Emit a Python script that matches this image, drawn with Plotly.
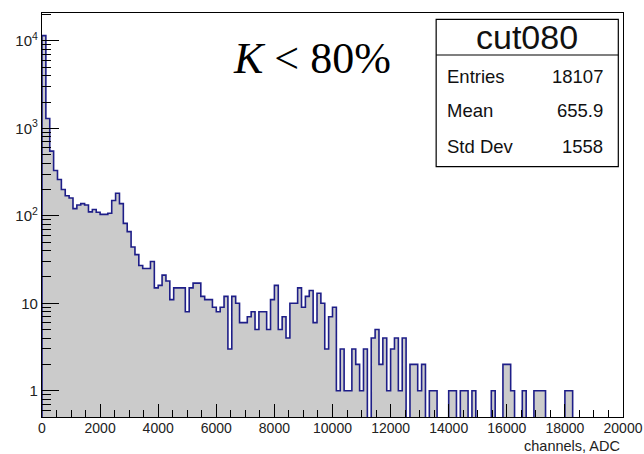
import numpy as np
import plotly.graph_objects as go

# ---------------- data ----------------
bin_low = 0.0
bin_width = 20000.0 / 150
counts = [
    11500, 1300, 550, 330, 260, 200, 170, 160, 121, 133,
    138, 133, 111, 118, 110, 104, 104, 107, 150, 181,
    138, 82, 66, 44, 36, 27, 25, 25, 30, 15,
    16, 21, 18, 11, 15, 15, 15, 8, 15, 17,
    17, 12, 11, 11, 9, 8, 9, 12, 3, 12,
    10, 6, 6, 7, 8, 5, 8, 8, 5, 11,
    16, 5, 7, 4, 10, 10, 15, 9, 12, 14,
    6, 13, 10, 3, 7, 9, 1, 3, 1, 1,
    3, 2, 1, 3, 0, 4, 5, 2, 4, 1,
    3, 4, 1, 4, 0, 2, 2, 1, 2, 0,
    1, 1, 0, 0, 0, 1, 1, 0, 1, 1,
    0, 1, 0, 0, 0, 0, 1, 0, 0, 2,
    2, 1, 0, 0, 1, 0, 0, 1, 1, 1,
    0, 0, 0, 0, 0, 1, 1, 0, 0, 0,
    0, 0, 0, 0, 0, 0, 0, 0, 0, 0,
]
hist_name = "cut080"
stat_labels = ["Entries", "Mean", "Std Dev"]
stat_values = ["18107", "655.9", "1558"]
x_tick_vals = [0, 2000, 4000, 6000, 8000, 10000, 12000, 14000, 16000, 18000, 20000]
x_tick_text = ["0", "2000", "4000", "6000", "8000", "10000", "12000", "14000",
               "16000", "18000", "20000"]
y_tick_vals = [1, 10, 100, 1000, 10000]
y_tick_text = ["1", "10", "10<sup>2</sup>", "10<sup>3</sup>", "10<sup>4</sup>"]
x_title = "channels, ADC"
cut_label = "<i>K</i> < 80%"

# ---------------- geometry ----------------
W, H = 644, 454
L, R, T, B = 41.5, 623.0, 13.0, 417.0

def px(x):
    return (x - L) / (R - L)

def py(y):
    return (B - y) / (B - T)

counts = np.array(counts, dtype=float)
n = len(counts)
edges = bin_low + bin_width * np.arange(n + 1)
centers = edges[:-1] + bin_width / 2

floor = 0.05
bar_y = [c if c > 0 else None for c in counts]
line_x = [edges[0]] + list(edges[:-1]) + [edges[-1]]
line_y = [floor] + [c if c > 0 else floor for c in counts] + [floor]

fig = go.Figure()
fig.add_trace(go.Bar(x=centers, y=bar_y, width=bin_width,
                     marker=dict(color="#cbcbcb", line=dict(width=0)),
                     hoverinfo="skip"))
fig.add_trace(go.Scatter(x=line_x, y=line_y, mode="lines",
                         line=dict(color="#1e1e88", width=1.6, shape="hv"),
                         hoverinfo="skip"))

minor_y = []
for d in [0.1, 1, 10, 100, 1000, 10000]:
    for k in range(2, 10):
        minor_y.append(k * d)

fig.update_layout(
    width=W, height=H,
    margin=dict(l=L, r=W - R, t=T, b=H - B, pad=0, autoexpand=False),
    paper_bgcolor="white", plot_bgcolor="white",
    showlegend=False, bargap=0,
    font=dict(family="Liberation Sans, Arial, sans-serif", color="#222222"),
    xaxis=dict(range=[0, 20000], tickvals=x_tick_vals, ticktext=x_tick_text,
               ticks="inside", ticklen=13, automargin=False,
               tickcolor="black", tickwidth=1, showline=True, linecolor="black",
               linewidth=1.2, mirror=True, showgrid=False, zeroline=False,
               tickfont=dict(size=14, color="#222222"), ticklabelstandoff=-2,
               minor=dict(ticks="inside", ticklen=7, dtick=500, tickcolor="black", showgrid=False)),
    yaxis=dict(type="log", range=[np.log10(0.5), 4.32], tickvals=y_tick_vals,
               ticktext=y_tick_text, ticks="inside", ticklen=17, tickcolor="black",
               tickwidth=1, showline=True, linecolor="black", linewidth=1.2, mirror=True,
               automargin=False,
               showgrid=False, zeroline=False, tickfont=dict(size=15, color="#222222"),
               minor=dict(ticks="inside", ticklen=9, tickvals=minor_y, tickcolor="black",
                          showgrid=False)),
)

# x axis title (bottom right)
fig.add_annotation(x=px(622), y=py(446), xref="paper", yref="paper", text=x_title,
                   showarrow=False, xanchor="right", yanchor="middle",
                   font=dict(size=14.5, color="#222222"))

# stats box
bx0, bx1, by0, by1, bdiv = 436, 618.3, 19.3, 166.7, 55
fig.add_shape(type="rect", xref="paper", yref="paper", x0=px(bx0), x1=px(bx1),
              y0=py(by1), y1=py(by0), line=dict(color="black", width=1.2), fillcolor="white")
fig.add_shape(type="line", xref="paper", yref="paper", x0=px(bx0), x1=px(bx1),
              y0=py(bdiv), y1=py(bdiv), line=dict(color="black", width=1.2))
fig.add_annotation(x=px((bx0 + bx1) / 2), y=py(37), xref="paper", yref="paper",
                   text=hist_name, showarrow=False, xanchor="center", yanchor="middle",
                   font=dict(size=34, color="#111111"))
row_y = [76, 110, 146.7]
for lab, val, yy in zip(stat_labels, stat_values, row_y):
    fig.add_annotation(x=px(445), y=py(yy), xref="paper", yref="paper", text=lab,
                       showarrow=False, xanchor="left", yanchor="middle",
                       font=dict(size=18.5, color="#111111"))
    fig.add_annotation(x=px(605), y=py(yy), xref="paper", yref="paper", text=val,
                       showarrow=False, xanchor="right", yanchor="middle",
                       font=dict(size=18.5, color="#111111"))

# cut label
fig.add_annotation(x=px(312), y=py(59), xref="paper", yref="paper", text=cut_label,
                   showarrow=False, xanchor="center", yanchor="middle",
                   font=dict(size=44, family="Liberation Serif, Times New Roman, serif",
                             color="black"))

fig.write_html("out.html")
